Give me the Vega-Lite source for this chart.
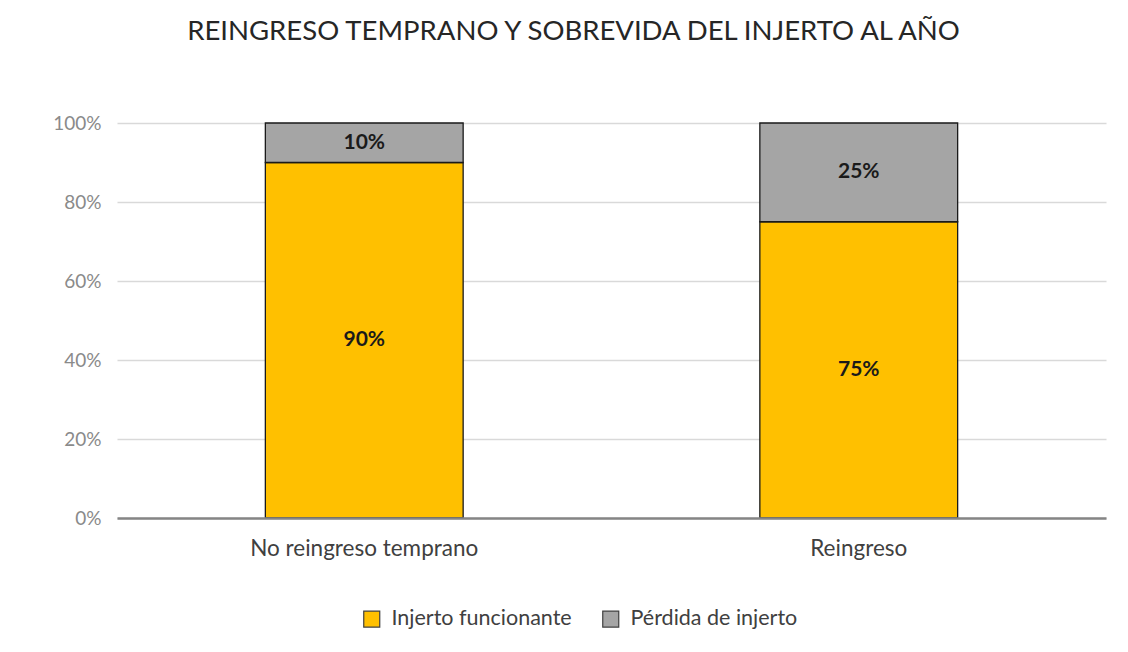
{
  "$schema": "https://vega.github.io/schema/vega-lite/v6.json",
  "autosize": {"type": "none"},
  "width": 989,
  "height": 395,
  "padding": {"left": 117, "top": 123, "right": 22, "bottom": 134},
  "background": "white",
  "config": {
    "font": "Lato",
    "view": {"stroke": null}
  },
  "title": {
    "text": "REINGRESO TEMPRANO Y SOBREVIDA DEL INJERTO AL AÑO",
    "font": "Lato",
    "fontSize": 27.5,
    "fontWeight": "normal",
    "color": "#262626",
    "anchor": "middle",
    "baseline": "alphabetic",
    "dx": -38,
    "offset": 47
  },
  "data": {
    "values": [
      {"grupo": "No reingreso temprano", "estado": "Injerto funcionante", "valor": 0.9},
      {"grupo": "No reingreso temprano", "estado": "Pérdida de injerto", "valor": 0.1},
      {"grupo": "Reingreso", "estado": "Injerto funcionante", "valor": 0.75},
      {"grupo": "Reingreso", "estado": "Pérdida de injerto", "valor": 0.25}
    ]
  },
  "transform": [
    {"stack": "valor", "groupby": ["grupo"], "sort": [{"field": "estado", "order": "ascending"}], "as": ["v0", "v1"]},
    {"calculate": "(datum.v0 + datum.v1) / 2", "as": "vmid"}
  ],
  "encoding": {
    "x": {
      "field": "grupo",
      "type": "nominal",
      "sort": ["No reingreso temprano", "Reingreso"],
      "scale": {"paddingInner": 0.6, "paddingOuter": 0.3},
      "axis": {
        "title": null,
        "labelAngle": 0,
        "labelFont": "Lato",
        "labelFontSize": 22.5,
        "labelLimit": 0,
        "labelColor": "#404040",
        "labelPadding": 19,
        "ticks": false,
        "domain": true,
        "domainColor": "#858585",
        "domainWidth": 2.5,
        "zindex": 1
      }
    }
  },
  "layer": [
    {
      "mark": {"type": "bar", "stroke": "#1a1a1a", "strokeWidth": 1.3},
      "encoding": {
        "y": {
          "field": "v0",
          "type": "quantitative",
          "scale": {"domain": [0, 1]},
          "axis": {
            "title": null,
            "values": [0, 0.2, 0.4, 0.6, 0.8, 1],
            "format": ".0%",
            "labelFont": "Lato",
            "labelFontSize": 19,
            "labelColor": "#8a8a8a",
            "labelPadding": 16,
            "ticks": false,
            "domain": false,
            "grid": true,
            "gridColor": "#d9d9d9",
            "gridWidth": 1.3
          }
        },
        "y2": {"field": "v1"},
        "color": {
          "field": "estado",
          "type": "nominal",
          "scale": {
            "domain": ["Injerto funcionante", "Pérdida de injerto"],
            "range": ["#FFC000", "#A5A5A5"]
          },
          "legend": {
            "title": null,
            "orient": "none",
            "direction": "horizontal",
            "legendX": 244,
            "legendY": 485,
            "symbolType": "square",
            "symbolSize": 256,
            "symbolStrokeColor": "#404040",
            "symbolStrokeWidth": 1.2,
            "labelFont": "Lato",
            "labelFontSize": 21.5,
            "labelLimit": 0,
            "labelColor": "#404040",
            "labelOffset": 9,
            "columnPadding": 28
          }
        }
      }
    },
    {
      "mark": {"type": "text", "font": "Lato", "fontSize": 21, "fontWeight": "bold", "color": "#1a1a1a", "baseline": "middle"},
      "encoding": {
        "y": {"field": "vmid", "type": "quantitative"},
        "text": {"field": "valor", "type": "quantitative", "format": ".0%"}
      }
    }
  ]
}
